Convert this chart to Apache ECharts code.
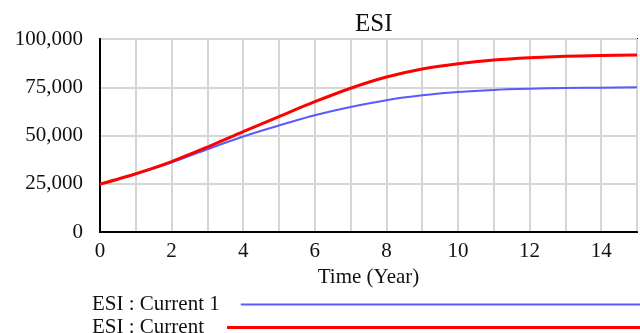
<!DOCTYPE html>
<html>
<head>
<meta charset="utf-8">
<script src="https://cdn.jsdelivr.net/npm/echarts@6/dist/echarts.min.js"></script>
<style>html,body{margin:0;padding:0;background:#fff;}#c{width:640px;height:333px;}</style>
</head>
<body>
<div id="c"></div>
<script>
var years = [0,1,2,3,4,5,6,7,8,9,10,11,12,13,14,15];
var esiCurrent1 = [24800,30100,36000,42900,49500,55200,60500,64800,68300,70800,72500,73600,74200,74600,74800,75000];
var esiCurrent  = [24800,30200,36500,44000,52000,59800,67500,74500,80300,84500,87200,89100,90300,91100,91500,91700];
var yTicks = [0,25000,50000,75000,100000];
var seriesNames = ['ESI : Current 1','ESI : Current'];

function pairs(xs, ys){ return xs.map(function(x,i){ return [x, ys[i]]; }); }
var FONT = 'Liberation Serif';
var chart = echarts.init(document.getElementById('c'));
chart.setOption({
  animation: false,
  backgroundColor: '#fff',
  title: {
    text: 'ESI', left: 350, top: 7,
    textStyle: { fontFamily: FONT, fontSize: 25, fontWeight: 'normal', color: '#111' }
  },
  grid: { left: 100, right: -4, top: 39, bottom: 101, show: true, borderColor: '#000', borderWidth: 2, backgroundColor: 'transparent' },
  xAxis: {
    type: 'value', min: 0, max: 15, interval: 1,
    name: 'Time (Year)', nameLocation: 'middle', nameGap: 26,
    nameTextStyle: { fontFamily: FONT, fontSize: 21, color: '#111' },
    axisLine: { show: true, lineStyle: { color: '#000', width: 2 } },
    axisTick: { show: false },
    axisLabel: { fontFamily: FONT, fontSize: 21, color: '#111', margin: 9,
      formatter: function(v){ return v % 2 === 0 ? String(v) : ''; } },
    splitLine: { show: true, lineStyle: { color: '#d6d6d6', width: 2 } }
  },
  yAxis: {
    type: 'value', min: yTicks[0], max: yTicks[yTicks.length-1], interval: 25000,
    axisLine: { show: true, lineStyle: { color: '#000', width: 2 } },
    axisTick: { show: false },
    axisLabel: { fontFamily: FONT, fontSize: 21, color: '#111', margin: 17,
      formatter: function(v){ return v.toLocaleString('en-US'); } },
    splitLine: { show: true, lineStyle: { color: '#d6d6d6', width: 2 } }
  },
  legend: [
    { data: [seriesNames[0]], left: 92, top: 294, align: 'right', padding: 0,
      icon: 'rect', itemWidth: 400, itemHeight: 2,
      textStyle: { fontFamily: FONT, fontSize: 21, color: '#111', padding: [0, 16, 0, 0] } },
    { data: [seriesNames[1]], left: 92, top: 317, align: 'right', padding: 0,
      icon: 'rect', itemWidth: 414, itemHeight: 3,
      textStyle: { fontFamily: FONT, fontSize: 21, color: '#111', padding: [0, 18, 0, 0] } }
  ],
  series: [
    { name: seriesNames[0], type: 'line', data: pairs(years, esiCurrent1), smooth: 0.3,
      showSymbol: false, symbol: 'none', color: '#5a5aff', lineStyle: { color: '#5a5aff', width: 2 } },
    { name: seriesNames[1], type: 'line', data: pairs(years, esiCurrent), smooth: 0.3,
      showSymbol: false, symbol: 'none', color: '#ff0000', lineStyle: { color: '#ff0000', width: 3 } }
  ]
});
</script>
</body>
</html>
